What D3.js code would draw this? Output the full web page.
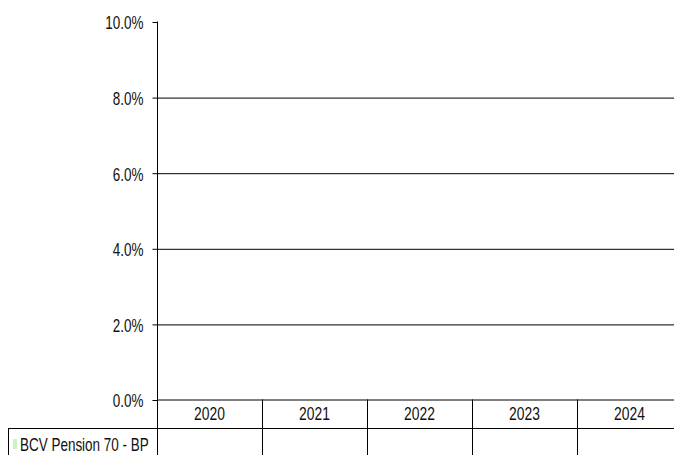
<!DOCTYPE html>
<html>
<head>
<meta charset="utf-8">
<script src="https://cdn.jsdelivr.net/npm/d3@7"></script>
<style>
  html, body { margin: 0; padding: 0; background: #fff; }
  svg { display: block; }
  text { font-family: "Liberation Sans", Arial, sans-serif; fill: #111; }
</style>
</head>
<body>
<svg id="chart" width="674" height="455"></svg>
<script>
// ---- data ----
const categories = ["2020", "2021", "2022", "2023", "2024"];
const seriesName = "BCV Pension 70 - BP";
const seriesValues = [null, null, null, null, null]; // no values shown in the chart
const yTickValues = [0, 2, 4, 6, 8, 10];
const seriesColor = "#c8f5c8";

// ---- layout ----
const svg = d3.select("#chart");
const W = 674, H = 455;
const plotLeft = 157, plotRight = 682;
const y0 = 399.5, yTop = 21.5;
const headerBottom = 428.5;
const NARROW = 0.77; // emulate a condensed (Arial Narrow-like) face
const FS = 17.5;

function narrow(sel) {
  sel.each(function () {
    const t = d3.select(this);
    const xv = +(t.attr("x") || 0);
    t.attr("x", xv / NARROW).attr("transform", `scale(${NARROW},1)`);
  });
}

const x = d3.scaleBand().domain(categories).range([plotLeft, plotRight]).padding(0);
const y = d3.scaleLinear().domain([0, 10]).range([y0, yTop]);

// gridlines (2..8)
const grid = svg.append("g").attr("transform", `translate(${plotLeft + 0.5},0)`)
  .call(d3.axisLeft(y).tickValues(yTickValues.filter(v => v > 0 && v < 10)).tickSize(-(W - plotLeft)).tickFormat(""));
grid.select(".domain").remove();
grid.selectAll("line").attr("stroke", "#000").attr("stroke-width", 1)
  .attr("transform", "translate(0,0.5)");

// y axis with ticks + labels
const yAxis = svg.append("g").attr("transform", `translate(${plotLeft + 0.5},0)`)
  .call(d3.axisLeft(y).tickValues(yTickValues).tickSize(5).tickSizeOuter(0).tickPadding(9)
    .tickFormat(d => d3.format(".1f")(d) + "%"));
yAxis.select(".domain").remove();
yAxis.selectAll("line").attr("stroke", "#000").attr("transform", "translate(0,0.5)");
yAxis.selectAll("text").attr("font-size", FS).attr("dy", "0.42em").attr("fill", "#111")
  .style("font-family", '"Liberation Sans", Arial, sans-serif');
narrow(yAxis.selectAll("text"));

// vertical axis line (through the table)
svg.append("line").attr("x1", plotLeft + 0.5).attr("x2", plotLeft + 0.5)
  .attr("y1", yTop).attr("y2", H).attr("stroke", "#000");

// bars (none when values are null)
svg.append("g").selectAll("rect")
  .data(categories.map((c, i) => ({ c, v: seriesValues[i] })).filter(d => d.v != null))
  .join("rect")
  .attr("x", d => x(d.c) + x.bandwidth() * 0.25)
  .attr("width", x.bandwidth() * 0.5)
  .attr("y", d => y(d.v))
  .attr("height", d => y(0) - y(d.v))
  .attr("fill", seriesColor);

// baseline at 0 across the plot
svg.append("line").attr("x1", plotLeft).attr("x2", W)
  .attr("y1", y(0) + 0.5).attr("y2", y(0) + 0.5).attr("stroke", "#000");

// data table: header row bottom line
svg.append("line").attr("x1", 8).attr("x2", W)
  .attr("y1", headerBottom).attr("y2", headerBottom).attr("stroke", "#000");
// left border of legend cell
svg.append("line").attr("x1", 8.5).attr("x2", 8.5)
  .attr("y1", headerBottom).attr("y2", H).attr("stroke", "#000");

// column separators
svg.append("g").selectAll("line")
  .data(categories.slice(1))
  .join("line")
  .attr("x1", d => Math.round(x(d)) + 0.5).attr("x2", d => Math.round(x(d)) + 0.5)
  .attr("y1", y(0)).attr("y2", H).attr("stroke", "#000");

// year labels
const yearG = svg.append("g");
yearG.selectAll("text")
  .data(categories)
  .join("text")
  .attr("x", d => x(d) + x.bandwidth() / 2)
  .attr("y", 420.5)
  .attr("text-anchor", "middle")
  .attr("font-size", FS + 0.5)
  .text(d => d);
narrow(yearG.selectAll("text"));

// value cells
const valG = svg.append("g");
valG.selectAll("text")
  .data(categories.map((c, i) => ({ c, v: seriesValues[i] })).filter(d => d.v != null))
  .join("text")
  .attr("x", d => x(d.c) + x.bandwidth() / 2)
  .attr("y", 451.5)
  .attr("text-anchor", "middle")
  .attr("font-size", FS)
  .text(d => d3.format(".1f")(d.v) + "%");
narrow(valG.selectAll("text"));

// legend cell
svg.append("rect").attr("x", 13).attr("y", 439).attr("width", 4).attr("height", 10)
  .attr("fill", seriesColor);
const leg = svg.append("text").attr("x", 20).attr("y", 451.5).attr("font-size", FS).text(seriesName);
narrow(leg);
</script>
</body>
</html>
